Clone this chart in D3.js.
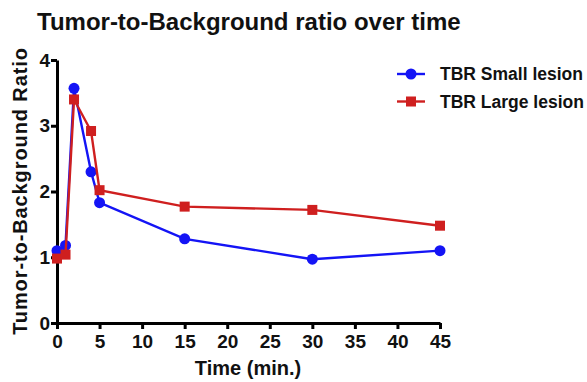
<!DOCTYPE html>
<html><head><meta charset="utf-8">
<script src="https://cdn.jsdelivr.net/npm/d3@7"></script>
<style>body{margin:0;background:#fff;} svg{display:block;font-family:"Liberation Sans",Arial,sans-serif;}</style>
</head><body>
<svg id="c" width="587" height="382"></svg>
<script>
const times = [0, 1, 2, 4, 5, 15, 30, 45];
const smallLesion = [1.10, 1.18, 3.57, 2.30, 1.83, 1.28, 0.97, 1.10];
const largeLesion = [0.98, 1.04, 3.40, 2.92, 2.02, 1.77, 1.72, 1.48];
const xTicks = [0, 5, 10, 15, 20, 25, 30, 35, 40, 45];
const yTicks = [0, 1, 2, 3, 4];
const seriesNames = ["TBR Small lesion", "TBR Large lesion"];

const svg = d3.select("#c");
const x = d3.scaleLinear().domain([0, 45]).range([57, 440]);
const y = d3.scaleLinear().domain([0, 4]).range([323, 60]);
const blue = "#1414f5", red = "#cf1f1f";

svg.append("text").attr("x", 37).attr("y", 30).attr("font-size", 24).attr("font-weight", "bold").attr("fill", "#111")
  .text("Tumor-to-Background ratio over time");

const xa = svg.append("g").attr("transform", "translate(0,323)")
  .call(d3.axisBottom(x).tickValues(xTicks).tickFormat(d3.format("d")).tickSize(6).tickPadding(6).tickSizeOuter(0));
const ya = svg.append("g").attr("transform", "translate(57,0)")
  .call(d3.axisLeft(y).tickValues(yTicks).tickFormat(d3.format("d")).tickSize(6).tickPadding(1).tickSizeOuter(0));
[xa, ya].forEach(a => {
  a.select(".domain").attr("stroke", "#000").attr("stroke-width", 3);
  a.selectAll(".tick line").attr("stroke", "#000").attr("stroke-width", 3);
  a.selectAll(".tick text").attr("font-size", 19).attr("font-weight", "bold").attr("fill", "#111")
    .attr("font-family", "'Liberation Sans', Arial, sans-serif");
});

svg.append("text").attr("x", 248).attr("y", 375).attr("text-anchor", "middle").attr("font-size", 20).attr("font-weight", "bold").attr("fill", "#111").text("Time (min.)");
svg.append("text").attr("transform", "translate(27,191) rotate(-90)").attr("text-anchor", "middle").attr("font-size", 20).attr("letter-spacing", 0.9).attr("font-weight", "bold").attr("fill", "#111").text("Tumor-to-Background Ratio");

const line = d3.line().x(d => x(d[0])).y(d => y(d[1]));
const sData = times.map((t, i) => [t, smallLesion[i]]);
const lData = times.map((t, i) => [t, largeLesion[i]]);

svg.append("path").datum(sData).attr("d", line).attr("fill", "none").attr("stroke", blue).attr("stroke-width", 2.4);
svg.selectAll(".sp").data(sData).enter().append("circle").attr("cx", d => x(d[0])).attr("cy", d => y(d[1])).attr("r", 5.5).attr("fill", blue);
svg.append("path").datum(lData).attr("d", line).attr("fill", "none").attr("stroke", red).attr("stroke-width", 2.4);
const sq = 10;
svg.selectAll(".lp").data(lData).enter().append("rect").attr("x", d => x(d[0]) - sq/2).attr("y", d => y(d[1]) - sq/2).attr("width", sq).attr("height", sq).attr("fill", red);

// legend
const leg = svg.append("g");
seriesNames.forEach((n, i) => {
  const yy = 74 + i * 27.5;
  const c = i === 0 ? blue : red;
  leg.append("line").attr("x1", 397).attr("x2", 425).attr("y1", yy).attr("y2", yy).attr("stroke", c).attr("stroke-width", 2.4);
  if (i === 0) leg.append("circle").attr("cx", 411).attr("cy", yy).attr("r", 5.5).attr("fill", c);
  else leg.append("rect").attr("x", 411 - sq/2).attr("y", yy - sq/2).attr("width", sq).attr("height", sq).attr("fill", c);
  leg.append("text").attr("x", 440).attr("y", yy + 6).attr("font-size", 17.5).attr("font-weight", "bold").attr("fill", "#111").text(n);
});
</script>
</body></html>
